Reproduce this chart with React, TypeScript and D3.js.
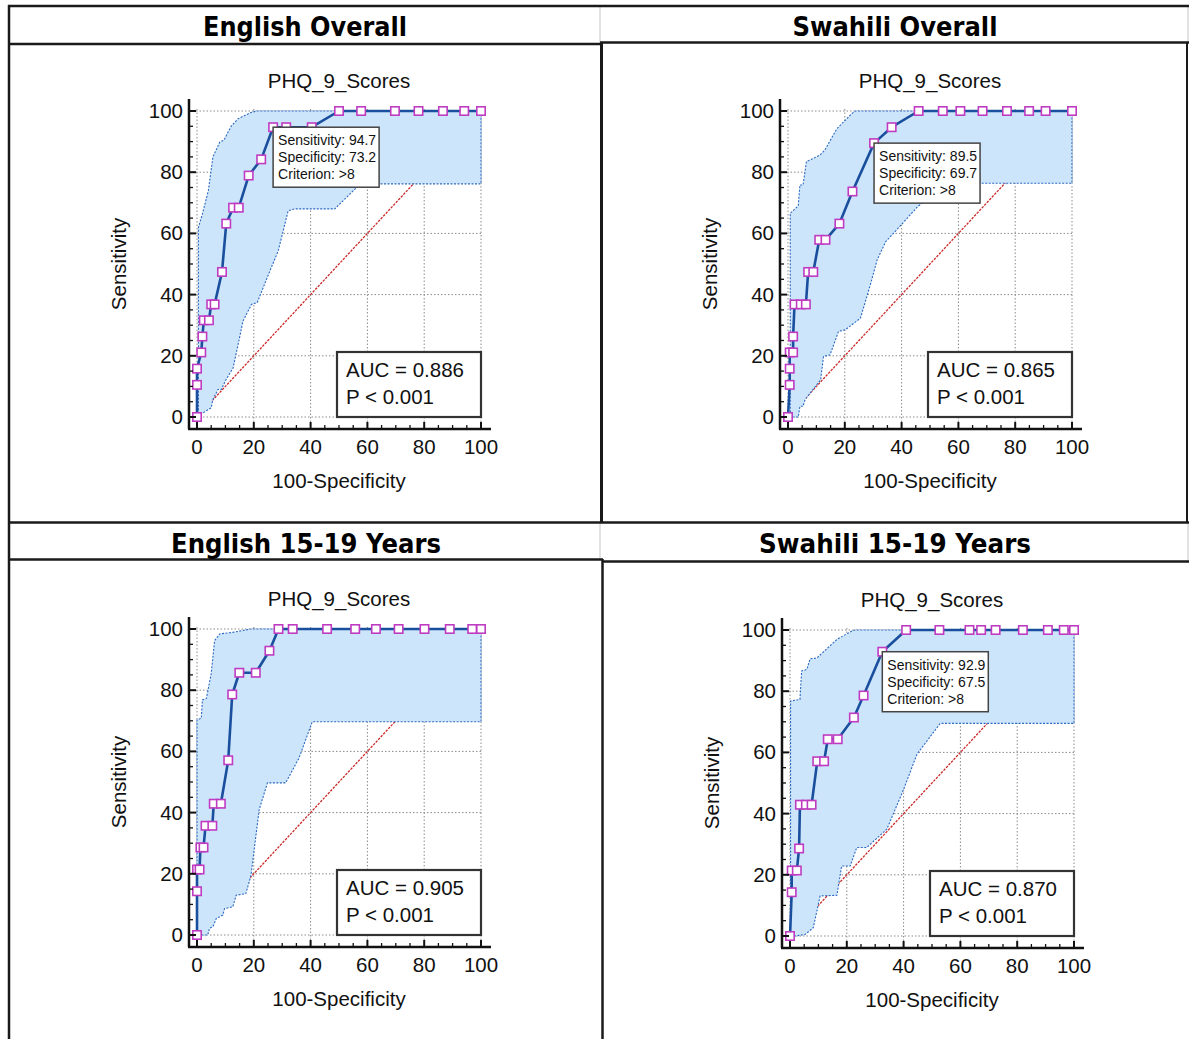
import React from "react";
import * as d3 from "d3";

// ---- data ----
const headerTitles = ["English Overall", "Swahili Overall", "English 15-19 Years", "Swahili 15-19 Years"];
const plotTitle = "PHQ_9_Scores";
const xLabel = "100-Specificity";
const yLabel = "Sensitivity";
const tickValues = [0, 20, 40, 60, 80, 100];
const aucValues = ["0.886", "0.865", "0.905", "0.870"];
const pValues = ["0.001", "0.001", "0.001", "0.001"];

// [100-specificity, sensitivity]
const engAllRoc: [number, number][] = [
  [0, 0], [0, 10.5], [0, 15.8], [1.5, 21.1], [1.9, 26.3], [2.4, 31.6], [4.2, 31.6], [5.0, 36.8],
  [6.2, 36.8], [8.8, 47.4], [10.3, 63.2], [12.7, 68.4], [14.7, 68.4], [18.2, 78.9], [22.6, 84.2],
  [26.8, 94.7], [31.4, 94.7], [40.4, 94.7], [50, 100], [57.8, 100], [69.7, 100], [78, 100],
  [86.6, 100], [94.1, 100], [100, 100],
];
const engAllUpper: [number, number][] = [
  [0, 0], [0.5, 2], [0.5, 62], [1.8, 66], [4, 74], [5.6, 85], [8, 89.8], [9.5, 90.5], [12, 95],
  [14.5, 97.5], [19, 99.5], [21, 100], [100, 100],
];
const engAllLower: [number, number][] = [
  [0, 0], [1.5, 1], [5, 3], [5.6, 5.7], [7.4, 9], [8.6, 9], [10.2, 12.2], [12.7, 16], [15, 26],
  [16.2, 31.4], [19.2, 36.8], [21.2, 37.4], [25.7, 47.8], [28.6, 54.3], [32.1, 67.4], [34.4, 68],
  [48.5, 68], [56.2, 75], [58.5, 76.2], [100, 76.2],
];

const swaAllRoc: [number, number][] = [
  [0, 0], [0.6, 10.5], [0.6, 15.8], [0.6, 21.1], [1.8, 21.1], [1.8, 26.3], [2.3, 36.8], [4.5, 36.8],
  [6.3, 36.8], [7.1, 47.4], [8.9, 47.4], [11, 57.9], [13.2, 57.9], [18.1, 63.2], [22.7, 73.7],
  [30.3, 89.5], [36.5, 94.7], [46, 100], [54.5, 100], [60.7, 100], [68.5, 100], [77.1, 100],
  [84.9, 100], [90.7, 100], [100, 100],
];
const swaAllUpper: [number, number][] = [
  [0, 0], [0.8, 0], [0.8, 66.6], [3.6, 69], [4.2, 75.8], [5.3, 75.8], [6.5, 83.5], [7.7, 84],
  [11.3, 85.6], [13, 87.3], [17.2, 94.2], [22.5, 99.2], [23.7, 100], [100, 100],
];
const swaAllLower: [number, number][] = [
  [0, 0], [3.6, 0], [4.2, 3.5], [5.3, 3.5], [6, 5.7], [11.5, 12.2], [12.5, 19.8], [14.8, 20.3],
  [17.8, 28], [20.2, 28.5], [25.5, 32.3], [29, 43.2], [31.4, 51.4], [34.4, 57.3], [38.3, 61.2],
  [45.7, 68.8], [48, 70.4], [52.8, 73.7], [57.5, 74.8], [59.9, 76.4], [100, 76.4],
];

const engYouthRoc: [number, number][] = [
  [0, 0], [0, 14.3], [0, 21.4], [0.9, 21.4], [1.2, 28.6], [2.3, 28.6], [3, 35.7], [5.4, 35.7],
  [5.9, 42.9], [8.4, 42.9], [11, 57.1], [12.4, 78.6], [14.9, 85.7], [20.7, 85.7], [25.5, 92.9],
  [28.7, 100], [33.7, 100], [45.8, 100], [55.7, 100], [63, 100], [71, 100], [80.1, 100],
  [89, 100], [96.9, 100], [100, 100],
];
const engYouthUpper: [number, number][] = [
  [0, 0], [0, 70.3], [1.5, 70.8], [1.9, 76.8], [3.3, 77.3], [5, 85.4], [6.2, 96.2], [8, 98.4],
  [12.6, 98.9], [17.2, 99.7], [19, 100], [100, 100],
];
const engYouthLower: [number, number][] = [
  [0, 0], [3.8, 0], [4.4, 2.2], [5.6, 2.7], [6.8, 5.4], [9.1, 6.5], [9.7, 8.6], [12.6, 9.2],
  [13.8, 13], [17.2, 13.5], [19, 19.5], [21.9, 41], [24.8, 49.7], [31.2, 49.7], [35.9, 57.8],
  [40.6, 69.7], [100, 69.7],
];

const swaYouthRoc: [number, number][] = [
  [0, 0], [0.6, 14.3], [0.6, 21.4], [2.4, 21.4], [3.2, 28.6], [3.5, 42.9], [5.6, 42.9], [7.6, 42.9],
  [9.6, 57.1], [12, 57.1], [13.3, 64.3], [16.8, 64.3], [22.5, 71.4], [25.9, 78.6], [32.5, 92.9],
  [40.9, 100], [52.6, 100], [63.2, 100], [67.3, 100], [72.4, 100], [82, 100], [90.8, 100],
  [96.4, 100], [100, 100],
];
const swaYouthUpper: [number, number][] = [
  [0, 0], [0.2, 0], [0.2, 76.8], [3.5, 77.3], [4.1, 86.6], [5.9, 87.1], [7.1, 90.6], [9.4, 90.8],
  [16.5, 96.9], [21.8, 99.7], [22.9, 100], [100, 100],
];
const swaYouthLower: [number, number][] = [
  [0, 0], [1.8, 0], [5.3, 0.5], [8.2, 2.7], [10.6, 13.1], [16.5, 13.3], [18.2, 22.9], [21.2, 22.9],
  [23.5, 28.9], [27, 28.9], [34.1, 34.9], [40, 47.9], [44.7, 59.4], [52.9, 69.5], [100, 69.5],
];

// optimal criterion labels (null = not shown)
const cutSens = [94.7, 89.5, null, 92.9];
const cutSpec = [73.2, 69.7, null, 67.5];
const cutCrit = [">8", ">8", null, ">8"];

const FONT = "'Liberation Sans', Arial, sans-serif";
const W = 284;
const H = 306;

type Pt = [number, number];

function RocPanel(props: {
  ox: number; oy: number; roc: Pt[]; upper: Pt[]; lower: Pt[]; idx: number;
}) {
  const { ox, oy, roc, upper, lower, idx } = props;
  const x = d3.scaleLinear().domain([0, 100]).range([ox, ox + W]);
  const y = d3.scaleLinear().domain([0, 100]).range([oy + H, oy]);
  const line = d3.line<Pt>().x((d) => x(d[0])).y((d) => y(d[1]));
  const band = [...upper, ...lower.slice().reverse()];
  const axX = ox - 8;
  const axY = oy + H + 12;
  const minor = d3.range(0, 101, 5);
  const sens = cutSens[idx];
  const spec = cutSpec[idx];

  return (
    <g>
      <text x={ox + W / 2} y={oy - 23} textAnchor="middle" fontSize={20.5} fontFamily={FONT} fill="#111">
        {plotTitle}
      </text>
      {/* grid */}
      {tickValues.map((t) => (
        <g key={"g" + t} stroke="#8a8a8a" strokeWidth={1} strokeDasharray="1.5,2">
          <line x1={x(t)} x2={x(t)} y1={y(100) - 2} y2={axY} />
          <line x1={axX} x2={x(100) + 2} y1={y(t)} y2={y(t)} />
        </g>
      ))}
      {/* chance line */}
      <line x1={x(0)} y1={y(0)} x2={x(100)} y2={y(100)} stroke="#cc2a2a" strokeWidth={1.3} strokeDasharray="2.5,1.2" />
      {/* confidence band */}
      <path d={line(band) + "Z"} fill="#cde5fb" stroke="#2b68c2" strokeWidth={1.1} strokeDasharray="2,1.5" />
      {/* ROC curve */}
      <path d={line(roc) || ""} fill="none" stroke="#1a4f9e" strokeWidth={2.6} strokeLinejoin="round" />
      {roc.map((d, i) => (
        <rect key={i} x={x(d[0]) - 4.2} y={y(d[1]) - 4.2} width={8.4} height={8.4} fill="#fff" stroke="#bf3cc2" strokeWidth={1.6} />
      ))}
      {/* axes */}
      <line x1={axX} x2={axX} y1={y(100) - 12} y2={axY} stroke="#111" strokeWidth={2.5} />
      <line x1={axX - 1} x2={x(100) + 10} y1={axY} y2={axY} stroke="#111" strokeWidth={2.5} />
      {minor.map((t) => {
        const major = t % 20 === 0;
        const len = major ? 7 : 4;
        return (
          <g key={"t" + t} stroke="#111" strokeWidth={major ? 2 : 1.3}>
            <line x1={x(t)} x2={x(t)} y1={axY} y2={axY - len} />
            <line x1={axX} x2={axX + len} y1={y(t)} y2={y(t)} />
          </g>
        );
      })}
      {tickValues.map((t) => (
        <g key={"l" + t} fontSize={20.5} fontFamily={FONT} fill="#111">
          <text x={x(t)} y={axY + 25} textAnchor="middle">{t}</text>
          <text x={ox - 14} y={y(t) + 7} textAnchor="end">{t}</text>
        </g>
      ))}
      <text x={ox + W / 2} y={oy + H + 71} textAnchor="middle" fontSize={20.5} fontFamily={FONT} fill="#111">
        {xLabel}
      </text>
      <text
        transform={`translate(${ox - 71},${oy + H / 2}) rotate(-90)`}
        textAnchor="middle" fontSize={20.5} fontFamily={FONT} fill="#111"
      >
        {yLabel}
      </text>
      {/* criterion box */}
      {sens !== null && spec !== null && (
        <g fontSize={14} fontFamily={FONT} fill="#111">
          <rect x={x(100 - spec)} y={y(sens)} width={106} height={60} fill="#fff" stroke="#444" strokeWidth={1.5} />
          <text x={x(100 - spec) + 5} y={y(sens) + 18}>{`Sensitivity: ${sens.toFixed(1)}`}</text>
          <text x={x(100 - spec) + 5} y={y(sens) + 35}>{`Specificity: ${spec.toFixed(1)}`}</text>
          <text x={x(100 - spec) + 5} y={y(sens) + 52}>{`Criterion: ${cutCrit[idx]}`}</text>
        </g>
      )}
      {/* AUC box */}
      <g fontSize={20.5} fontFamily={FONT} fill="#111">
        <rect x={x(100) - 144} y={y(0) - 65} width={144} height={65} fill="#fff" stroke="#333" strokeWidth={2.2} />
        <text x={x(100) - 135} y={y(0) - 40}>{`AUC = ${aucValues[idx]}`}</text>
        <text x={x(100) - 135} y={y(0) - 13}>{`P < ${pValues[idx]}`}</text>
      </g>
    </g>
  );
}

const panels = [
  { ox: 197, oy: 111, roc: engAllRoc, upper: engAllUpper, lower: engAllLower },
  { ox: 788, oy: 111, roc: swaAllRoc, upper: swaAllUpper, lower: swaAllLower },
  { ox: 197, oy: 629, roc: engYouthRoc, upper: engYouthUpper, lower: engYouthLower },
  { ox: 790, oy: 630, roc: swaYouthRoc, upper: swaYouthUpper, lower: swaYouthLower },
];

const headerPos = [
  { cx: 305, y: 36, len: 204 },
  { cx: 895, y: 36, len: 205 },
  { cx: 306, y: 553, len: 270 },
  { cx: 895, y: 553, len: 272 },
];

export default function App() {
  const dark = "#1a1a1a";
  return (
    <svg
      width={1189}
      height={1039}
      style={{ position: "absolute", left: 0, top: 0, background: "#fff" }}
    >
      <rect width={1189} height={1039} fill="#fff" />
      {/* table lines */}
      <g stroke="#cfcfcf" strokeWidth={1.2}>
        <line x1={600} x2={600} y1={6} y2={43} />
        <line x1={600} x2={600} y1={523} y2={560} />
        <line x1={1188} x2={1188} y1={6} y2={43} />
        <line x1={1188} x2={1188} y1={523} y2={562} />
      </g>
      <g stroke={dark}>
        <line x1={8} x2={1189} y1={6} y2={6} strokeWidth={2.5} />
        <line x1={9} x2={9} y1={5} y2={1039} strokeWidth={2.5} />
        <line x1={9} x2={601} y1={44} y2={44} strokeWidth={2.5} />
        <line x1={600} x2={1189} y1={42.5} y2={42.5} strokeWidth={2.5} />
        <line x1={601.5} x2={601.5} y1={42} y2={523} strokeWidth={3} />
        <line x1={1187} x2={1187} y1={42} y2={523} strokeWidth={2} />
        <line x1={9} x2={1189} y1={522.5} y2={522.5} strokeWidth={2.5} />
        <line x1={9} x2={603} y1={559.5} y2={559.5} strokeWidth={2.5} />
        <line x1={602} x2={1189} y1={561.5} y2={561.5} strokeWidth={2.5} />
        <line x1={602.5} x2={602.5} y1={559} y2={1039} strokeWidth={2.5} />
      </g>
      {headerTitles.map((t, i) => (
        <text
          key={t}
          x={headerPos[i].cx}
          y={headerPos[i].y}
          textAnchor="middle"
          fontFamily="'DejaVu Sans', Verdana, sans-serif"
          fontWeight="bold"
          fontSize={26}
          textLength={headerPos[i].len}
          lengthAdjust="spacingAndGlyphs"
          fill="#000"
        >
          {t}
        </text>
      ))}
      {panels.map((p, i) => (
        <RocPanel key={i} idx={i} {...p} />
      ))}
    </svg>
  );
}
